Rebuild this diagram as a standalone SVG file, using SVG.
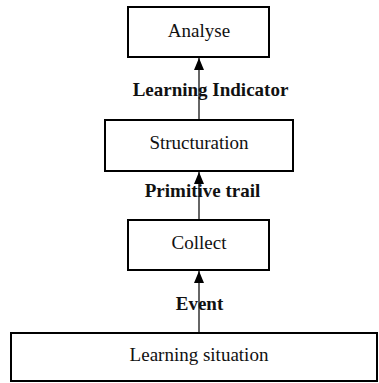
<svg xmlns="http://www.w3.org/2000/svg" width="379" height="383" viewBox="0 0 379 383">
<style>
.box{fill:#fff;stroke:#000;stroke-width:2}
.t{font-family:"Liberation Serif",serif;font-size:19px;fill:#111;text-anchor:middle}
.l{font-family:"Liberation Serif",serif;font-size:19px;font-weight:bold;fill:#111;text-anchor:middle}
.c{stroke:#333;stroke-width:1.5;fill:none;marker-end:url(#ah)}
</style>
<defs>
<marker id="ah" markerWidth="13" markerHeight="10" refX="12" refY="5" orient="auto" markerUnits="userSpaceOnUse" viewBox="0 0 13 10">
<path d="M0,0 L12,5 L0,10 Z" fill="#000"/>
</marker>
</defs>
<rect width="379" height="383" fill="#fff"/>
<g id="connectors">
<line class="c" x1="199" y1="120" x2="199" y2="58"/>
<line class="c" x1="199" y1="220" x2="199" y2="172"/>
<line class="c" x1="199" y1="333" x2="199" y2="271"/>
</g>
<g id="analyse"><rect class="box" x="128" y="7" width="141" height="50"/><text class="t" x="199" y="37">Analyse</text></g>
<g id="structuration"><rect class="box" x="105" y="120" width="188" height="51"/><text class="t" x="199" y="149">Structuration</text></g>
<g id="collect"><rect class="box" x="128" y="220" width="141" height="50"/><text class="t" x="199" y="249">Collect</text></g>
<g id="learning-situation"><rect class="box" x="11" y="333" width="366" height="48"/><text class="t" x="199" y="361">Learning situation</text></g>
<g id="labels">
<text class="l" x="210.5" y="96">Learning Indicator</text>
<text class="l" x="202.5" y="197">Primitive trail</text>
<text class="l" x="199.5" y="310">Event</text>
</g>
</svg>
